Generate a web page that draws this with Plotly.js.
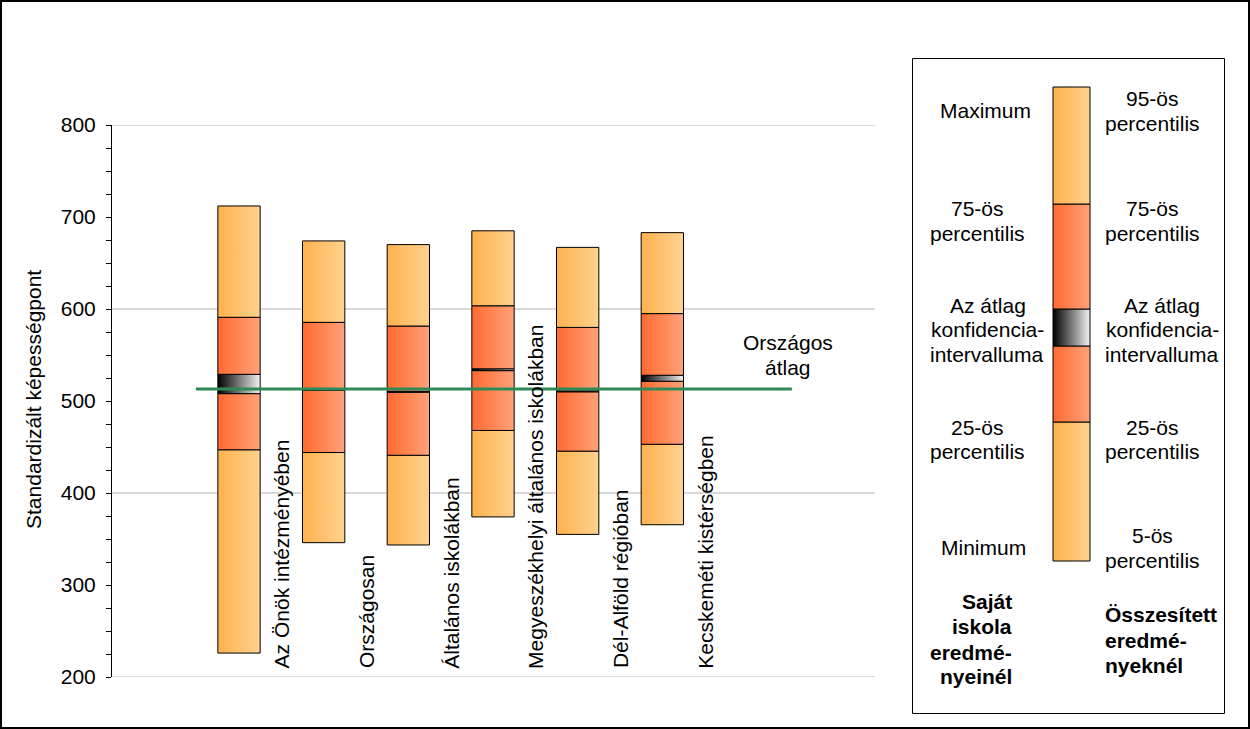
<!DOCTYPE html>
<html>
<head>
<meta charset="utf-8">
<script src="https://cdn.plot.ly/plotly-3.0.1.min.js"></script>
<style>html,body{margin:0;padding:0;background:#fff;}#chart{width:1250px;height:729px;}</style>
</head>
<body>
<div id="chart"></div>
<script>
// ---- data ----
const categories = ["Az Önök intézményében", "Országosan", "Általános iskolákban",
  "Megyeszékhelyi általános iskolákban", "Dél-Alföld régióban", "Kecskeméti kistérségben"];
const minimum = [226, 346, 343.5, 374, 355, 365.5];
const p25     = [447, 444, 441, 468, 445.5, 453];
const ciLow   = [508, 511.5, 509.5, 533, 510, 521.5];
const ciHigh  = [529, 513.5, 510.5, 535, 511, 528];
const p75     = [591, 585.5, 581.5, 603.5, 580, 595];
const maximum = [712, 674, 670, 685, 667, 683];
const nationalAvg = 513;
const avgLabel = ["Országos", "átlag"];
const yTicks = [200, 300, 400, 500, 600, 700, 800];
const gridVals = [200, 400, 600, 800];
// legend key levels (own scale of the key)
const keyLevels = [0, 139, 215, 252, 357, 474];

// ---- style ----
const FONT = 'Liberation Sans, Arial, sans-serif';
const W = 1250, H = 729;
const scales = {
  light: [[0, '#FFB14E'], [1, '#FFD28F']],
  red:   [[0, '#FF6A30'], [1, '#FFA27A']],
  ci:    [[0, '#000000'], [1, '#F2F2F2']]
};
const kinds = ['light', 'red', 'ci', 'red', 'light'];
const barW = 0.5;

function seg(x0, x1, lo, hi, kind, xa, ya) {
  return {
    type: 'scatter', mode: 'lines', xaxis: xa, yaxis: ya,
    x: [x0, x1, x1, x0, x0], y: [lo, lo, hi, hi, lo],
    fill: 'toself', fillgradient: {type: 'horizontal', colorscale: scales[kind]},
    line: {color: '#000', width: 1}, hoverinfo: 'skip', showlegend: false
  };
}

const traces = [];
categories.forEach((c, i) => {
  const lv = [minimum[i], p25[i], ciLow[i], ciHigh[i], p75[i], maximum[i]];
  for (let k = 0; k < 5; k++) traces.push(seg(i - barW / 2, i + barW / 2, lv[k], lv[k + 1], kinds[k], 'x', 'y'));
});
// national average line
traces.push({type: 'scatter', mode: 'lines', x: [-0.51, categories.length + 0.53], y: [nationalAvg, nationalAvg],
  line: {color: '#2E8B57', width: 3}, hoverinfo: 'skip', showlegend: false});
// legend key
for (let k = 0; k < 5; k++) traces.push(seg(0, 37, keyLevels[k], keyLevels[k + 1], kinds[k], 'x2', 'y2'));

const px = v => v / W, py = v => 1 - v / H;

const annotations = [];
// category labels
categories.forEach((c, i) => annotations.push({
  xref: 'x', yref: 'y', x: i + 0.5, y: 207, text: c, textangle: -90, showarrow: false,
  xanchor: 'center', yanchor: 'bottom', font: {family: FONT, size: 21, color: '#000'}
}));
// national average label
annotations.push({xref: 'x', yref: 'paper', x: 6.49, y: py(342), text: avgLabel[0], showarrow: false,
  xanchor: 'center', yanchor: 'middle', font: {family: FONT, size: 21, color: '#000'}});
annotations.push({xref: 'x', yref: 'paper', x: 6.49, y: py(367), text: avgLabel[1], showarrow: false,
  xanchor: 'center', yanchor: 'middle', font: {family: FONT, size: 21, color: '#000'}});
// y title
annotations.push({xref: 'paper', yref: 'paper', x: px(33), y: py(400), text: 'Standardizált képességpont',
  textangle: -90, showarrow: false, xanchor: 'center', yanchor: 'middle', font: {family: FONT, size: 21, color: '#000'}});

// legend texts [text, x, y, anchor, bold]
const legendTexts = [
  ['Maximum', 986, 111, 'center'], ['75-ös', 977, 208, 'center'], ['percentilis', 977, 233, 'center'],
  ['Az átlag', 988, 305, 'center'], ['konfidencia-', 987, 330, 'center'], ['intervalluma', 987, 354, 'center'],
  ['25-ös', 977, 427, 'center'], ['percentilis', 977, 451, 'center'], ['Minimum', 983, 547, 'center'],
  ['95-ös', 1152, 99, 'center'], ['percentilis', 1152, 124, 'center'], ['75-ös', 1152, 208, 'center'],
  ['percentilis', 1152, 233, 'center'], ['Az átlag', 1162, 305, 'center'], ['konfidencia-', 1162, 330, 'center'],
  ['intervalluma', 1162, 354, 'center'], ['25-ös', 1152, 427, 'center'], ['percentilis', 1152, 451, 'center'],
  ['5-ös', 1152, 535, 'center'], ['percentilis', 1152, 560, 'center'],
  ['Saját', 1014, 601, 'right', 1], ['iskola', 1014, 626, 'right', 1], ['eredmé-', 1014, 652, 'right', 1],
  ['nyeinél', 1014, 676, 'right', 1],
  ['Összesített', 1103, 614, 'left', 1], ['eredmé-', 1103, 640, 'left', 1], ['nyeknél', 1103, 665, 'left', 1]
];
legendTexts.forEach(t => annotations.push({
  xref: 'paper', yref: 'paper', x: px(t[1]), y: py(t[2]), text: t[4] ? '<b>' + t[0] + '</b>' : t[0],
  showarrow: false, xanchor: t[3], yanchor: 'middle', font: {family: FONT, size: 21, color: '#000'}
}));

const shapes = [];
gridVals.forEach(v => shapes.push({type: 'line', xref: 'paper', yref: 'y', x0: px(112), x1: px(875), y0: v, y1: v,
  line: {color: '#B4B4B4', width: 1}, layer: 'below'}));
// outer frame
shapes.push({type: 'rect', xref: 'paper', yref: 'paper', x0: px(1), x1: px(1249), y0: py(728), y1: py(1),
  line: {color: '#000', width: 2}});
// legend box
shapes.push({type: 'rect', xref: 'paper', yref: 'paper', x0: px(912.5), x1: px(1224.5), y0: py(713.5), y1: py(58.5),
  line: {color: '#000', width: 1}});

const layout = {
  width: W, height: H, margin: {l: 0, r: 0, t: 0, b: 0, autoexpand: false},
  paper_bgcolor: '#fff', plot_bgcolor: 'rgba(0,0,0,0)', showlegend: false,
  font: {family: FONT, size: 21, color: '#000'},
  xaxis: {domain: [px(112), px(874)], range: [-1.5, 7.5], showgrid: false, zeroline: false, showline: false,
    showticklabels: false, ticks: '', fixedrange: true},
  yaxis: {domain: [py(677), py(125)], range: [200, 800], tickvals: yTicks, showgrid: false, zeroline: false,
    showline: true, linecolor: '#000', linewidth: 1, ticks: 'outside', ticklen: 5, tickcolor: '#000',
    ticklabelstandoff: 6, tickfont: {family: FONT, size: 21, color: '#000'},
    minor: {dtick: 25, ticks: 'outside', ticklen: 5, tickcolor: '#000', showgrid: false}, fixedrange: true},
  xaxis2: {domain: [px(1051), px(1093)], range: [-2, 40], visible: false, anchor: 'y2', fixedrange: true},
  yaxis2: {domain: [py(563), py(85)], range: [-2, 476], visible: false, anchor: 'x2', fixedrange: true},
  annotations: annotations, shapes: shapes
};

Plotly.newPlot('chart', traces, layout, {displayModeBar: false, staticPlot: true});
</script>
</body>
</html>
